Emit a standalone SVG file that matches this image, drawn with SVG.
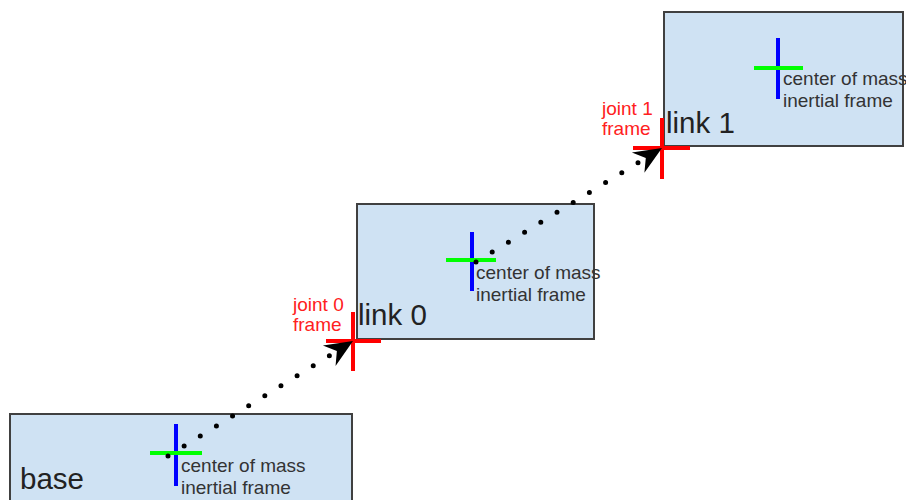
<svg xmlns="http://www.w3.org/2000/svg" width="906" height="500" viewBox="0 0 906 500">
<style>
.box{fill:#cfe2f3;stroke:#404040;stroke-width:2}
.red{stroke:#ff0000;stroke-width:4}
.blue{stroke:#0000ff;stroke-width:4}
.green{stroke:#00ff00;stroke-width:4}
.lbl{font-family:"Liberation Sans",Arial,sans-serif;font-size:29.5px;fill:#222}
.com{font-family:"Liberation Sans",Arial,sans-serif;font-size:19px;fill:#333}
.jt{font-family:"Liberation Sans",Arial,sans-serif;font-size:19px;fill:#ff2020}
.dots{fill:none;stroke:#000;stroke-width:5;stroke-linecap:round;stroke-dasharray:0 19}
</style>
<defs>
<marker id="ah" markerUnits="userSpaceOnUse" markerWidth="34" markerHeight="28" viewBox="-30 -14 34 28" refX="0" refY="0" orient="auto" overflow="visible">
<path d="M0,0 L-28,-12 L-19,0 L-28,12 Z" fill="#000"/>
</marker>
</defs>
<rect width="906" height="500" fill="#fff"/>
<g id="base">
<rect class="box" x="10" y="414" width="342" height="100"/>
<text class="lbl" x="20" y="489">base</text>
<line class="blue" x1="176" y1="424" x2="176" y2="486"/>
<line class="green" x1="150" y1="453" x2="202" y2="453"/>
<text class="com" x="181" y="472">center of mass</text>
<text class="com" x="181" y="494">inertial frame</text>
</g>
<g id="link0">
<rect class="box" x="357" y="204" width="237" height="135"/>
<text class="lbl" x="358" y="325">link 0</text>
<line class="blue" x1="472" y1="232" x2="472" y2="291"/>
<line class="green" x1="446" y1="260" x2="496" y2="260"/>
<text class="com" x="476" y="279">center of mass</text>
<text class="com" x="476" y="301">inertial frame</text>
</g>
<g id="link1">
<rect class="box" x="664" y="12" width="239" height="134"/>
<text class="lbl" x="666" y="133">link 1</text>
<line class="blue" x1="778" y1="38" x2="778" y2="99"/>
<line class="green" x1="754" y1="68" x2="803" y2="68"/>
<text class="com" x="783" y="85">center of mass</text>
<text class="com" x="783" y="107">inertial frame</text>
</g>
<g id="joint0">
<line class="red" x1="353" y1="312" x2="353" y2="371"/>
<line class="red" x1="326" y1="341" x2="381" y2="341"/>
<text class="jt" x="293" y="311">joint 0</text>
<text class="jt" x="293" y="331">frame</text>
</g>
<g id="joint1">
<line class="red" x1="662" y1="118" x2="662" y2="179"/>
<line class="red" x1="633" y1="148" x2="690" y2="148"/>
<text class="jt" x="602" y="115">joint 1</text>
<text class="jt" x="602" y="135">frame</text>
</g>
<g id="connectors">
<line class="dots" x1="168" y1="456" x2="353" y2="341" marker-end="url(#ah)"/>
<line class="dots" x1="476" y1="262" x2="662" y2="148" marker-end="url(#ah)"/>
</g>
</svg>
